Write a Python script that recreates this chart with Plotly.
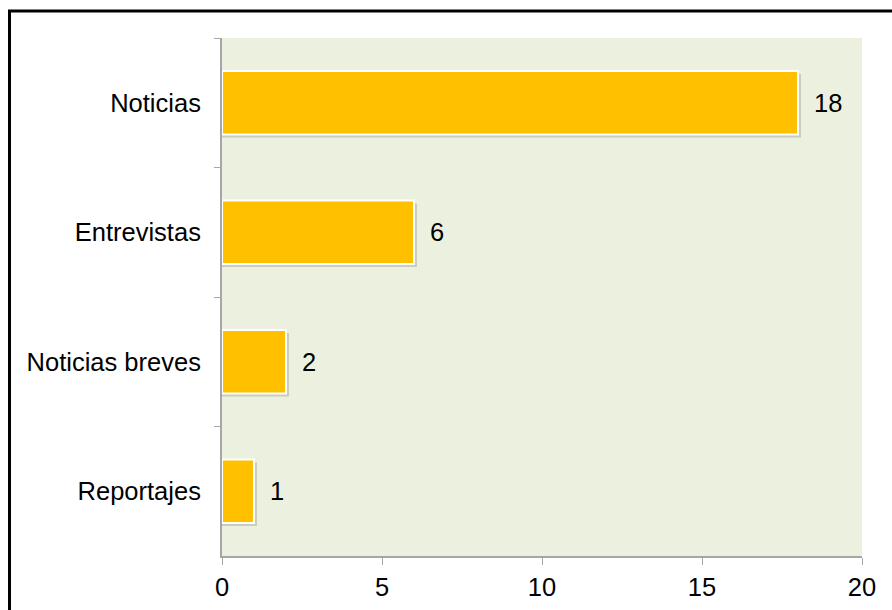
import plotly.graph_objects as go

categories = ["Noticias", "Entrevistas", "Noticias breves", "Reportajes"]
values = [18, 6, 2, 1]
x_ticks = [0, 5, 10, 15, 20]

W, H = 892, 610
L, R, T, B = 222, 30, 38, 54
pw, ph = W - L - R, H - T - B

BAR_W = 0.49
FONT = "Liberation Sans, Arial"
FS = 25.5

fig = go.Figure()
# soft drop shadow behind bars
sx = 3 * 20 / pw          # ~3 px in x data units
sy = 3 * 4 / ph           # ~3 px in category units
fig.add_trace(go.Bar(
    y=categories, x=[v + sx for v in values], orientation="h",
    marker=dict(color="rgba(0,0,0,0.15)", line=dict(width=0)),
    width=BAR_W, offset=-BAR_W / 2 + sy, hoverinfo="skip",
))
fig.add_trace(go.Bar(
    y=categories, x=values, orientation="h",
    marker=dict(color="#FFC000", line=dict(color="#FFFFFF", width=2)),
    width=BAR_W, offset=-BAR_W / 2, hoverinfo="skip",
))

# value labels
for c, v in zip(categories, values):
    fig.add_annotation(x=v, y=c, text=str(v), showarrow=False,
                       xanchor="left", xshift=14,
                       font=dict(family=FONT, size=FS, color="#000000"))

# outer frame (top/left visible)
fx0 = (9.5 - L) / pw
fy1 = (H - B - 11) / ph
fig.add_shape(type="rect", xref="paper", yref="paper",
              x0=fx0, x1=1.3, y0=-0.3, y1=fy1,
              line=dict(color="#000000", width=3), layer="above")

fig.update_layout(
    width=W, height=H,
    margin=dict(l=L, r=R, t=T, b=B, autoexpand=False),
    paper_bgcolor="#FFFFFF", plot_bgcolor="#EBF1DE",
    showlegend=False, barmode="overlay",
    font=dict(family=FONT, size=FS, color="#000000"),
)
fig.update_xaxes(range=[0, 20], tickvals=x_ticks, showgrid=False, zeroline=False,
                 showline=True, linecolor="#A6A6A6", linewidth=2,
                 ticks="outside", ticklen=7, tickcolor="#A6A6A6", tickwidth=1,
                 tickfont=dict(size=FS))
fig.update_yaxes(autorange="reversed", showgrid=False, zeroline=False,
                 showline=True, linecolor="#A6A6A6", linewidth=2,
                 ticks="outside", ticklen=6, tickcolor="#A6A6A6", tickwidth=1,
                 tickson="boundaries", ticklabelstandoff=14,
                 tickfont=dict(size=FS))

fig.write_html("out.html", config={"displayModeBar": False},
               post_script="document.body.style.margin='0';document.body.style.padding='0';")
